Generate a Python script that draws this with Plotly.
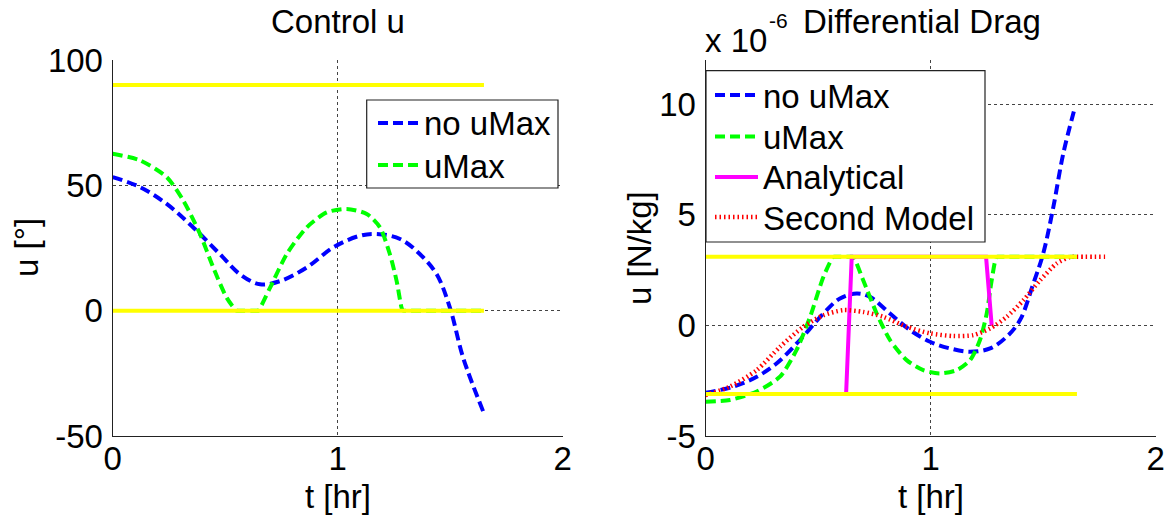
import plotly.graph_objects as go

# ---------------- data ----------------
# Control angle u [deg] vs time [hr]
t_ctrl_free = [0.0, 0.121, 0.24, 0.358, 0.477, 0.566, 0.655, 0.744, 0.862, 0.98,
               1.099, 1.173, 1.277, 1.366, 1.44, 1.499, 1.558, 1.647]
u_ctrl_free = [53.3, 49.3, 42.6, 33.2, 22.5, 14.5, 10.5, 11.8, 17.2, 25.2,
               29.9, 30.6, 28.6, 22.5, 14.5, 1.1, -18.9, -40.3]

t_ctrl_lim = [0.0, 0.121, 0.24, 0.314, 0.388, 0.447, 0.507, 0.551, 0.56, 0.64, 0.647,
              0.699, 0.773, 0.862, 0.951, 1.04, 1.129, 1.188, 1.232, 1.262, 1.284,
              1.29, 1.30, 1.647]
u_ctrl_lim = [62.6, 60.0, 53.3, 43.9, 30.6, 17.2, 5.1, 0.0, 0.0, 0.0, 0.0,
              9.1, 22.5, 33.2, 39.2, 40.6, 38.6, 33.2, 22.5, 11.8, 1.1,
              0.0, 0.0, 0.0]

ctrl_bounds = [0.0, 90.0]
t_bound_end = 1.65

# Differential drag acceleration, in units of 1e-6 N/kg
drag_scale = 1e-6
t_drag_free = [0.0, 0.123, 0.227, 0.316, 0.419, 0.523, 0.597, 0.671, 0.73, 0.819,
               0.908, 0.997, 1.086, 1.175, 1.264, 1.338, 1.397, 1.456, 1.5, 1.545,
               1.589, 1.641]
a_drag_free = [-3.04, -2.77, -2.32, -1.71, -0.66, 0.54, 1.22, 1.44, 1.29, 0.54,
               -0.21, -0.74, -1.04, -1.19, -1.04, -0.51, 0.24, 1.89, 3.25, 5.35,
               7.76, 9.86]

t_drag_lim = [0.0, 0.108, 0.227, 0.33, 0.404, 0.464, 0.523, 0.567, 0.575, 0.648, 0.656,
              0.7, 0.76, 0.819, 0.893, 0.967, 1.041, 1.116, 1.175, 1.219, 1.249,
              1.271, 1.293, 1.305, 1.649]
a_drag_lim = [-3.45, -3.37, -2.99, -2.32, -1.11, 0.39, 2.19, 3.1, 3.1, 3.1, 3.1,
              2.04, 0.54, -0.66, -1.57, -2.02, -2.17, -2.02, -1.57, -0.66, 0.54,
              2.04, 3.1, 3.1, 3.1]

t_drag_analytic = [0.624, 0.649, 1.246, 1.271]
a_drag_analytic = [-3.1, 3.1, 3.1, 0.0]

t_drag_model2 = [0.0, 0.108, 0.227, 0.33, 0.434, 0.523, 0.612, 0.7, 0.789, 0.893,
                 0.997, 1.1, 1.189, 1.264, 1.338, 1.412, 1.486, 1.56, 1.62, 1.635, 1.775]
a_drag_model2 = [-3.15, -2.77, -2.02, -0.97, -0.06, 0.46, 0.69, 0.61, 0.39, -0.06,
                 -0.36, -0.48, -0.44, -0.14, 0.39, 1.14, 2.04, 2.8, 3.1, 3.1, 3.1]

drag_bounds = [-3.1, 3.1]

# tick labels (hyphen minus)
x_ticks = [0, 1, 2]
ctrl_ticks = [-50, 0, 50, 100]
drag_ticks = [-5, 0, 5, 10]

# ---------------- styling ----------------
FONT = "Liberation Sans, Arial, sans-serif"
FS = 33
BLUE, GREEN, MAGENTA, RED, YELLOW = "#0000FF", "#00FF00", "#FF00FF", "#FF0000", "#FFFF00"
DASH = "10px,5px"
DOT = "1.5px,3px"
LW = 4

W, H = 1172, 516
ax_top, ax_bot = 60, 436
left_x0, left_x1 = 112.7, 562.7
right_x0, right_x1 = 705.7, 1155.7


def px(xp):
    return xp / W


def py(yp):
    return (H - yp) / H


styles = {
    "no uMax": dict(color=BLUE, width=LW, dash=DASH),
    "uMax": dict(color=GREEN, width=LW, dash=DASH),
    "Analytical": dict(color=MAGENTA, width=LW),
    "Second Model": dict(color=RED, width=4.5, dash=DOT),
}

fig = go.Figure()


def add_line(x, y, name, xa, ya, smooth=None):
    line = dict(styles[name])
    if smooth is not None:
        line.update(shape="spline", smoothing=smooth)
    fig.add_trace(go.Scatter(x=x, y=y, mode="lines", name=name, line=line,
                             xaxis=xa, yaxis=ya, showlegend=False))


def add_bounds(levels, xa, ya):
    for b in levels:
        fig.add_trace(go.Scatter(x=[0, t_bound_end], y=[b, b], mode="lines",
                                 showlegend=False, line=dict(color=YELLOW, width=LW),
                                 xaxis=xa, yaxis=ya, hoverinfo="skip"))


# ---- left panel: control u ----
add_line(t_ctrl_free, u_ctrl_free, "no uMax", "x", "y", smooth=1.0)
add_line(t_ctrl_lim, u_ctrl_lim, "uMax", "x", "y", smooth=0.7)
add_bounds(ctrl_bounds, "x", "y")

# ---- right panel: differential drag ----
add_line(t_drag_free, a_drag_free, "no uMax", "x2", "y2", smooth=1.0)
add_line(t_drag_lim, a_drag_lim, "uMax", "x2", "y2", smooth=0.7)
add_line(t_drag_analytic, a_drag_analytic, "Analytical", "x2", "y2")
add_line(t_drag_model2, a_drag_model2, "Second Model", "x2", "y2", smooth=0.7)
add_bounds(drag_bounds, "x2", "y2")

axis_common = dict(
    showline=True, linecolor="#222222", linewidth=1.3, mirror=False,
    showgrid=True, gridcolor="#444444", gridwidth=1, griddash="dot",
    zeroline=False, ticks="", tickfont=dict(family=FONT, size=FS, color="black"),
    automargin=False, fixedrange=True,
)

fig.update_layout(
    width=W, height=H,
    margin=dict(l=0, r=0, t=0, b=0),
    paper_bgcolor="white", plot_bgcolor="white",
    font=dict(family=FONT, size=FS, color="black"),
    showlegend=False,
    xaxis=dict(domain=[px(left_x0), px(left_x1)], range=[0, 2], anchor="y",
               tickvals=x_ticks, ticktext=[str(v) for v in x_ticks],
               ticklabelstandoff=-7, **axis_common),
    yaxis=dict(domain=[py(ax_bot), py(ax_top)], range=[-50, 100], anchor="x",
               tickvals=ctrl_ticks, ticktext=[str(v) for v in ctrl_ticks],
               ticklabelstandoff=2, **axis_common),
    xaxis2=dict(domain=[px(right_x0), px(right_x1)], range=[0, 2], anchor="y2",
                tickvals=x_ticks, ticktext=[str(v) for v in x_ticks],
                ticklabelstandoff=-7, **axis_common),
    yaxis2=dict(domain=[py(ax_bot), py(ax_top)], range=[-5, 12], anchor="x2",
                tickvals=drag_ticks, ticktext=[str(v) for v in drag_ticks],
                ticklabelstandoff=2, **axis_common),
)

shapes = []
annotations = []


def text(t, x, y, size=FS, xanchor="center", angle=0):
    annotations.append(dict(text=t, x=px(x), y=py(y), xref="paper", yref="paper",
                            xanchor=xanchor, yanchor="middle", textangle=angle,
                            showarrow=False,
                            font=dict(family=FONT, size=size, color="black")))


def legend_box(x0, x1, y0, y1, names, rows, sample_x0, sample_x1, text_x):
    shapes.append(dict(type="rect", xref="paper", yref="paper",
                       x0=px(x0), x1=px(x1), y0=py(y1), y1=py(y0),
                       fillcolor="white", line=dict(color="#222222", width=1.2),
                       layer="above"))
    for name, ry in zip(names, rows):
        shapes.append(dict(type="line", xref="paper", yref="paper",
                           x0=px(sample_x0), x1=px(sample_x1), y0=py(ry), y1=py(ry),
                           line=styles[name], layer="above"))
        text(name, text_x, ry + 1, xanchor="left")


legend_box(366.7, 558, 100, 188, ["no uMax", "uMax"], [123, 165], 378, 421, 422)
legend_box(706, 985, 70.7, 242, ["no uMax", "uMax", "Analytical", "Second Model"],
           [95, 136.5, 177, 217], 715, 758, 761)

# titles and axis labels
text("Control u", (left_x0 + left_x1) / 2, 22)
text("Differential Drag", 922, 22)
text("x 10", 703, 40, xanchor="left")
text("-6", 767, 21, size=21, xanchor="left")
text("t [hr]", (left_x0 + left_x1) / 2, 496)
text("t [hr]", (right_x0 + right_x1) / 2, 496)
text("u [°]", 27, 248, angle=-90)
text("u [N/kg]", 640, 248, angle=-90)

fig.update_layout(shapes=shapes, annotations=annotations)

fig.write_html("out.html")
